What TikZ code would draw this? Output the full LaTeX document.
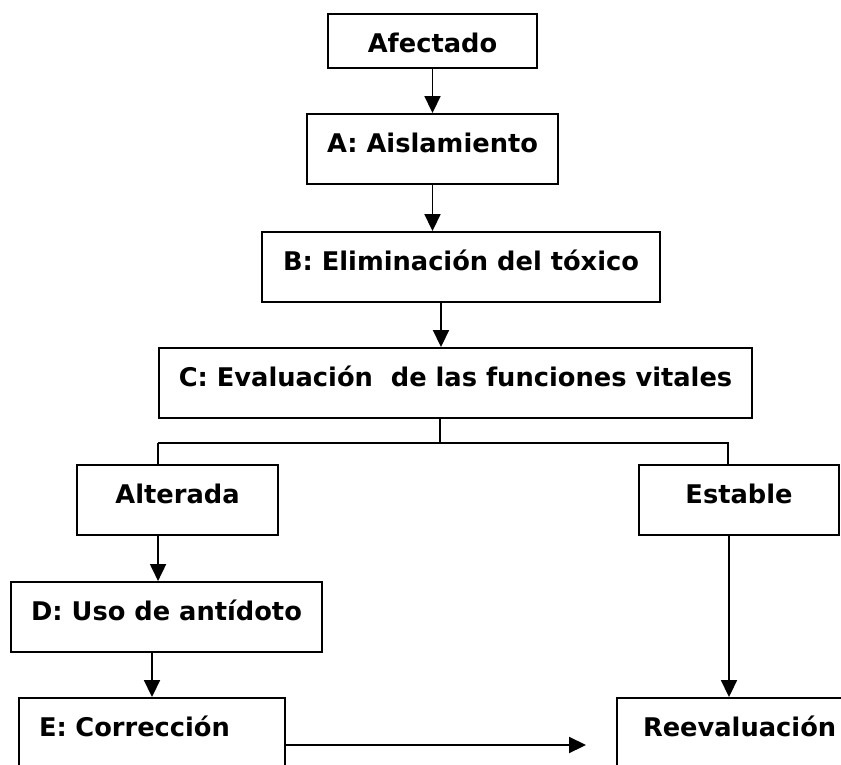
\documentclass[tikz,border=0pt]{standalone}
\usepackage{fontspec}
\setmainfont{DejaVu Sans}
\usetikzlibrary{arrows.meta}

\begin{document}
\begin{tikzpicture}[x=1pt,y=-1pt,
      stepBox/.style={draw,line width=1.9pt,inner sep=0pt,
        font=\fontsize{25.7}{30}\selectfont\bfseries,
        text height=38.4pt,text depth=31.6pt},
      leftBox/.style={stepBox,align=left,inner xsep=#1},
      flow/.style={line width=1.8pt,-{Triangle[width=16pt,length=17pt]}},
      link/.style={line width=1.8pt},
    ]

    \clip (0,0) rectangle (841,764);

    \node[stepBox,minimum width=209pt,text depth=15.6pt] (afect) at (432.5,41) {Afectado};
    \node[stepBox,minimum width=251pt] (aisl) at (432.5,149) {A: Aislamiento};
    \node[stepBox,minimum width=398pt] (elim) at (461,267) {B: Eliminación del tóxico};
    \node[stepBox,minimum width=593pt] (eval) at (455.5,383) {C: Evaluación \ de las funciones vitales};

    \node[stepBox,minimum width=201pt] (alter) at (177.5,500) {Alterada};
    \node[stepBox,minimum width=200pt] (estab) at (739,500) {Estable};
    \node[stepBox,minimum width=311pt] (antid) at (166.5,617) {D: Uso de antídoto};
    \node[leftBox=20pt,text width=226pt] (corr) at (152,733) {E: Corrección};
    \node[leftBox=26pt,text width=208pt] (reev) at (747,733) {Reevaluación};

    \draw[flow] (afect) -- (aisl);
    \draw[flow] (aisl.south) -- (aisl.south |- elim.north);
    \draw[flow] ([xshift=-20pt]elim.south) -- ([xshift=-20pt]elim.south |- eval.north);

    % split below C
    \draw[link] ([xshift=-15.5pt]eval.south) -- ++(0,24) coordinate (split);
    \draw[link] (eval.west |- split) -- ([xshift=-11pt]estab.north |- split)
      -- ([xshift=-11pt]estab.north);
    \draw[link] (eval.west |- split) -- (eval.west |- alter.north);

    \draw[flow] (eval.west |- alter.south) -- (eval.west |- antid.north);
    \draw[flow] (corr.north |- antid.south) -- (corr.north);
    \draw[flow] ([xshift=-10pt]estab.south) -- ([xshift=-10pt]estab.south |- reev.north);
    \draw[flow] ([yshift=-12pt]corr.east) -- ([xshift=-30pt,yshift=-12pt]reev.west);

\end{tikzpicture}
\end{document}
